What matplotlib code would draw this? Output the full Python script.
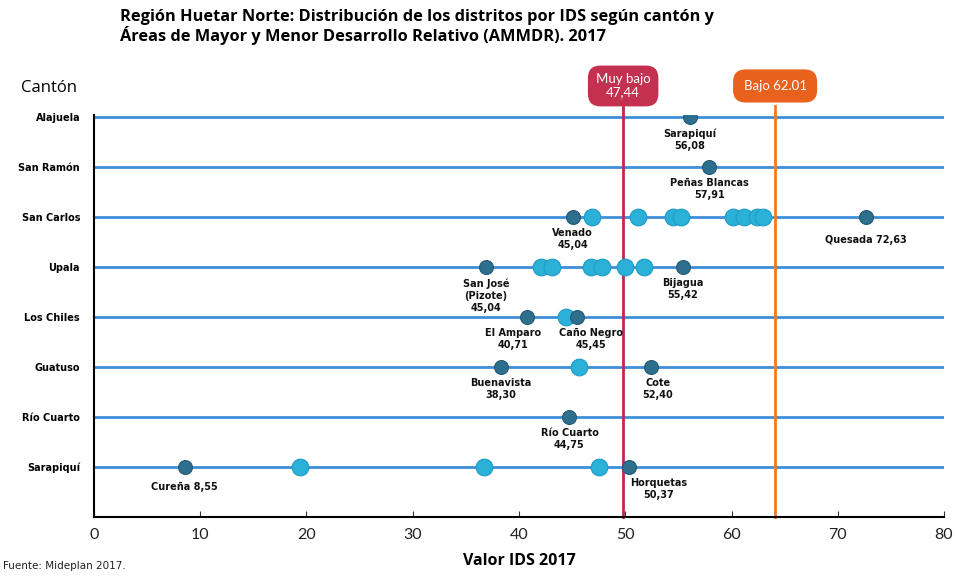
import matplotlib.pyplot as plt

# cantones de arriba hacia abajo
cantones = ["Alajuela", "San Ramón", "San Carlos", "Upala", "Los Chiles",
            "Guatuso", "Río Cuarto", "Sarapiquí"]

# valores IDS 2017 de los distritos (puntos claros)
alajuela = []
san_ramon = []
san_carlos = [46.9, 51.2, 54.5, 55.2, 60.1, 61.2, 62.4, 63.0]
upala = [42.1, 43.1, 46.8, 47.8, 50.0, 51.8]
los_chiles = [44.4]
guatuso = [45.6]
rio_cuarto = []
sarapiqui = [19.4, 36.7, 47.5]

# distritos destacados (puntos oscuros con etiqueta)
dest_canton = ["Alajuela", "San Ramón", "San Carlos", "San Carlos", "Upala", "Upala",
               "Los Chiles", "Los Chiles", "Guatuso", "Guatuso", "Río Cuarto",
               "Sarapiquí", "Sarapiquí"]
dest_valor = [56.08, 57.91, 45.04, 72.63, 36.9, 55.42, 40.71, 45.45, 38.30, 52.40,
              44.75, 8.55, 50.37]
dest_texto = ["Sarapiquí\n56,08", "Peñas Blancas\n57,91", "Venado\n45,04",
              "Quesada 72,63", "San José\n(Pizote)\n45,04", "Bijagua\n55,42",
              "El Amparo\n40,71", "Caño Negro\n45,45", "Buenavista\n38,30",
              "Cote\n52,40", "Río Cuarto\n44,75", "Cureña 8,55", "Horquetas\n50,37"]
# desplazamiento de cada etiqueta (puntos)
dest_offset = [(0, -8), (0, -8), (0, -8), (0, -13), (0, -8), (0, -8),
               (-10, -8), (10, -8), (0, -8), (5, -8), (0, -8), (0, -11), (21, -8)]

# umbrales
umbral_muy_bajo = 49.8
umbral_bajo = 64.1
texto_muy_bajo = "Muy bajo\n47,44"
texto_bajo = "Bajo 62.01"

claros = [alajuela, san_ramon, san_carlos, upala, los_chiles, guatuso, rio_cuarto, sarapiqui]

plt.rcParams['font.family'] = ['Lato', 'DejaVu Sans']

fig = plt.figure(figsize=(9.56, 5.76), dpi=100)
ax = fig.add_axes([0.0983, 0.1024, 0.8892, 0.698])

n = len(cantones)
fila = {c: n - i for i, c in enumerate(cantones)}

for c in cantones:
    ax.plot([0, 80], [fila[c], fila[c]], color="#3f8ed8", lw=2, zorder=1)

for c, vals in zip(cantones, claros):
    if vals:
        ax.scatter(vals, [fila[c]] * len(vals), s=145, color="#2bb0d8",
                   edgecolor="#1f9cc6", lw=0.8, zorder=3)

ys = [fila[c] for c in dest_canton]
ax.scatter(dest_valor, ys, s=100, color="#2e6f8e", edgecolor="#235a75", lw=0.8, zorder=4)

for v, y, t, off in zip(dest_valor, ys, dest_texto, dest_offset):
    ax.annotate(t, (v, y), xytext=off, textcoords="offset points", ha="center", va="top",
                fontsize=7, fontweight="bold", family="DejaVu Sans", color="#111111",
                linespacing=1.25, zorder=5)

ax.axvline(umbral_muy_bajo, ymin=0, ymax=1.022, color="#c0294d", lw=2, clip_on=False, zorder=2)
ax.axvline(umbral_bajo, ymin=0, ymax=1.022, color="#f07a22", lw=2, clip_on=False, zorder=2)

ax.text(umbral_muy_bajo, 8.62, texto_muy_bajo, ha="center", va="center", color="white",
        fontsize=9.5, linespacing=1.1,
        bbox=dict(boxstyle="round,pad=0.6,rounding_size=0.95", fc="#c4304f", ec="none"))
ax.text(umbral_bajo, 8.62, texto_bajo, ha="center", va="center", color="white",
        fontsize=9.5,
        bbox=dict(boxstyle="round,pad=0.8,rounding_size=0.95", fc="#e8621e", ec="none"))

ax.set_xlim(0, 80)
ax.set_ylim(0, 8.04)
ax.set_xticks(range(0, 81, 10))
ax.set_yticks([fila[c] for c in cantones])
ax.set_yticklabels(cantones, fontsize=7, fontweight="bold", family="DejaVu Sans")
ax.tick_params(axis="y", length=0, pad=10)
ax.tick_params(axis="x", direction="in", length=4, labelsize=11.5, colors="#333333",
               labelcolor="#222222", pad=8)
for s in ["top", "right"]:
    ax.spines[s].set_visible(False)
ax.spines["left"].set_color("black")
ax.spines["bottom"].set_color("black")
ax.spines["left"].set_linewidth(1.5)
ax.spines["bottom"].set_linewidth(1.5)

ax.set_xlabel("Valor IDS 2017", fontsize=11.5, fontweight="bold", family="Open Sans",
              labelpad=8)

fig.text(0.125, 0.985, "Región Huetar Norte: Distribución de los distritos por IDS según cantón y\n"
         "Áreas de Mayor y Menor Desarrollo Relativo (AMMDR). 2017",
         ha="left", va="top", fontsize=11.8, fontweight="bold", family="Open Sans",
         linespacing=1.1)
fig.text(0.022, 0.848, "Cantón", ha="left", va="center", fontsize=12, family="Open Sans")
fig.text(0.003, 0.008, "Fuente: Mideplan 2017.", ha="left", va="bottom", fontsize=7.5,
         family="DejaVu Sans", color="#222222")

fig.savefig("out.png", dpi=100)
